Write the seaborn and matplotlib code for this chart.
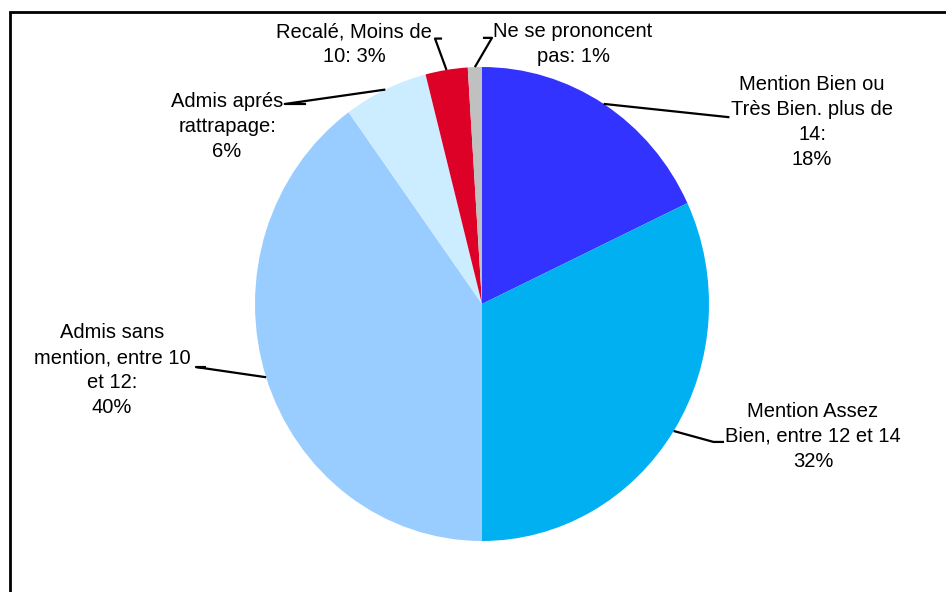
import numpy as np
import matplotlib
matplotlib.use("Agg")
import matplotlib.pyplot as plt
import matplotlib.patches as patches
import seaborn as sns

# Data (clockwise from 12 o'clock)
labels = [
    "Mention Bien ou\nTrès Bien. plus de\n14:\n18%",
    "Mention Assez\nBien, entre 12 et 14\n32%",
    "Admis sans\nmention, entre 10\net 12:\n40%",
    "Admis aprés\nrattrapage:\n6%",
    "Recalé, Moins de\n10: 3%",
    "Ne se prononcent\npas: 1%",
]
shares = [18, 32, 40, 6, 3, 1]
colors = ["#3333FF", "#00B0F0", "#99CCFF", "#CCECFF", "#DD0027", "#C0C0C0"]

# label centres and leader-line elbow points, in pie units (layout only)
label_pos = [(1.454, 0.770), (1.458, -0.557), (-1.63, -0.28),
             (-1.123, 0.751), (-0.564, 1.097), (0.401, 1.097)]
elbows = [
    [(1.09, 0.788)],
    [(1.02, -0.582), (1.066, -0.582)],
    [(-1.26, -0.266), (-1.216, -0.266)],
    [(-0.869, 0.844), (-0.775, 0.844)],
    [(-0.207, 1.12), (-0.176, 1.12)],
    [(0.044, 1.123), (0.004, 1.123)],
]

sns.set_theme(style="white")
plt.rcParams["font.family"] = ["Liberation Sans", "DejaVu Sans"]

fig = plt.figure(figsize=(9.46, 5.92), dpi=100)
fig.patch.set_facecolor("white")

# pie axes: slightly taller than wide, like the original
W, H = 946, 592
cx, cy, rx, ry = 482, 304, 227, 237
ax = fig.add_axes([(cx - rx) / W, (H - cy - ry) / H, 2 * rx / W, 2 * ry / H])
wedges, _ = ax.pie(shares, colors=colors, startangle=90, counterclock=False,
                   wedgeprops=dict(linewidth=0))
ax.set_aspect("auto")
ax.set_xlim(-1, 1)
ax.set_ylim(-1, 1)
ax.axis("off")

# labels with leader lines from each wedge's mid-angle on the rim
cum = np.cumsum([0] + shares[:-1])
total = sum(shares)
for lab, s, c0, (tx, ty), elb in zip(labels, shares, cum, label_pos, elbows):
    frac = (c0 + s / 2) / total
    ang = np.deg2rad(90 - 360 * frac)
    px, py = np.cos(ang), np.sin(ang)
    pts = [(px, py)] + elb
    ax.plot([p[0] for p in pts], [p[1] for p in pts], color="black",
            lw=1.6, clip_on=False, solid_capstyle="butt")
    ax.text(tx, ty, lab, ha="center", va="center", fontsize=14.5,
            color="black", linespacing=1.4, clip_on=False)

# frame around the chart area (runs off the right and bottom edges)
frame = patches.Rectangle((10 / W, -0.2), 1.2, 1 - 12 / H + 0.2,
                          transform=fig.transFigure, fill=False,
                          edgecolor="black", linewidth=2)
fig.patches.append(frame)

fig.savefig("out.png", dpi=100)
